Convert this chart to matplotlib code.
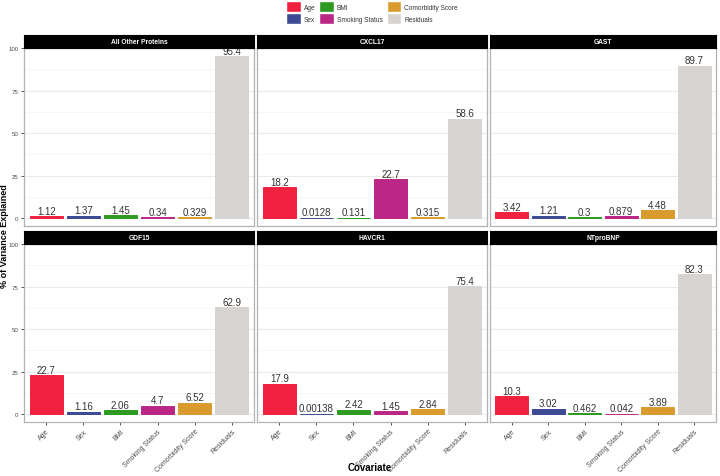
import matplotlib
matplotlib.use("Agg")
import matplotlib.pyplot as plt
from matplotlib.patches import Patch

plt.rcParams['font.family'] = ['Liberation Sans', 'DejaVu Sans']

covariates = ["Age", "Sex", "BMI", "Smoking Status", "Comorbidity Score", "Residuals"]
colors = ["#F0203F", "#3D4A94", "#2E9A22", "#BA2786", "#D99B2E", "#D6D3D0"]
panels = ["All Other Proteins", "CXCL17", "GAST", "GDF15", "HAVCR1", "NTproBNP"]
all_other = [1.12, 1.37, 1.45, 0.34, 0.329, 95.4]
cxcl17 = [18.2, 0.0128, 0.131, 22.7, 0.315, 58.6]
gast = [3.42, 1.21, 0.3, 0.879, 4.48, 89.7]
gdf15 = [22.7, 1.16, 2.06, 4.7, 6.52, 62.9]
havcr1 = [17.9, 0.00138, 2.42, 1.45, 2.84, 75.4]
ntprobnp = [10.3, 3.02, 0.462, 0.042, 3.89, 82.3]
values = [all_other, cxcl17, gast, gdf15, havcr1, ntprobnp]
yticks = [0, 25, 50, 75, 100]

W, H = 720, 477
fig = plt.figure(figsize=(7.2, 4.77), dpi=100)

col_x = [(24, 254), (257, 487), (490, 716)]
row_y = [(49, 227, 36), (245, 423, 232)]  # top, bottom, strip top

ymin, ymax = -4.77, 100.17
border = "#B3B3B3"
for i, (name, vals) in enumerate(zip(panels, values)):
    r, c = divmod(i, 3)
    x0, x1 = col_x[c]
    yt, yb, st = row_y[r]
    ax = fig.add_axes([x0 / W, 1 - yb / H, (x1 - x0) / W, (yb - yt) / H])
    xs = list(range(len(covariates)))
    ax.bar(xs, vals, width=0.9, color=colors, edgecolor=colors, linewidth=0.7, zorder=2)
    for x, v in zip(xs, vals):
        ax.text(x, v + 0.3, f"{v:.3g}", ha="center", va="bottom", fontsize=7,
                color="#333333", zorder=3, clip_on=False)
    ax.set_xlim(-0.6, 5.6)
    ax.set_ylim(ymin, ymax)
    ax.set_yticks(yticks)
    ax.set_yticks([12.5, 37.5, 62.5, 87.5], minor=True)
    ax.grid(axis="y", which="major", color="#EBEBEB", linewidth=0.8, zorder=0)
    ax.grid(axis="y", which="minor", color="#F4F4F4", linewidth=0.5, zorder=0)
    ax.set_axisbelow(True)
    for s in ax.spines.values():
        s.set_color(border)
        s.set_linewidth(0.9)
    ax.tick_params(axis="both", which="major", length=2.5, width=0.6, color="#333333",
                   labelsize=4.4, labelcolor="#4D4D4D", pad=1.5)
    ax.tick_params(axis="x", labelsize=5)
    ax.tick_params(axis="y", which="minor", length=0)
    ax.set_xticks(xs)
    if r == 1:
        ax.set_xticklabels(covariates, rotation=45, ha="right", rotation_mode="anchor")
    else:
        ax.set_xticklabels([])
        ax.tick_params(axis="x", length=0)
    if c != 0:
        ax.set_yticklabels([])
        ax.tick_params(axis="y", length=0)
    sax = fig.add_axes([x0 / W, 1 - (yt) / H, (x1 - x0) / W, (yt - st) / H])
    sax.set_facecolor("black")
    sax.set_xticks([]); sax.set_yticks([])
    for s in sax.spines.values():
        s.set_color("black")
    sax.text(0.5, 0.5, name, ha="center", va="center", color="white", fontsize=4.8,
             fontweight="bold", transform=sax.transAxes)

fig.text(370 / W, 1 - 468 / H, "Covariate", ha="center", va="center", fontsize=7, fontweight="bold")
fig.text(4.5 / W, 1 - 236 / H, "% of Variance Explained", ha="center", va="center", rotation=90,
         fontsize=6.5, fontweight="bold")

handles = [Patch(facecolor=col, edgecolor="white", label=lab) for col, lab in zip(colors, covariates)]
fig.legend(handles=handles, ncol=3, loc="upper center", bbox_to_anchor=(372 / W, 1.003), frameon=False,
           fontsize=4.7, handlelength=2.2, handleheight=2.2, handletextpad=0.5, columnspacing=0.6,
           labelspacing=0.1, borderpad=0.1, labelcolor="#333333")

fig.savefig("out.png", dpi=100)
